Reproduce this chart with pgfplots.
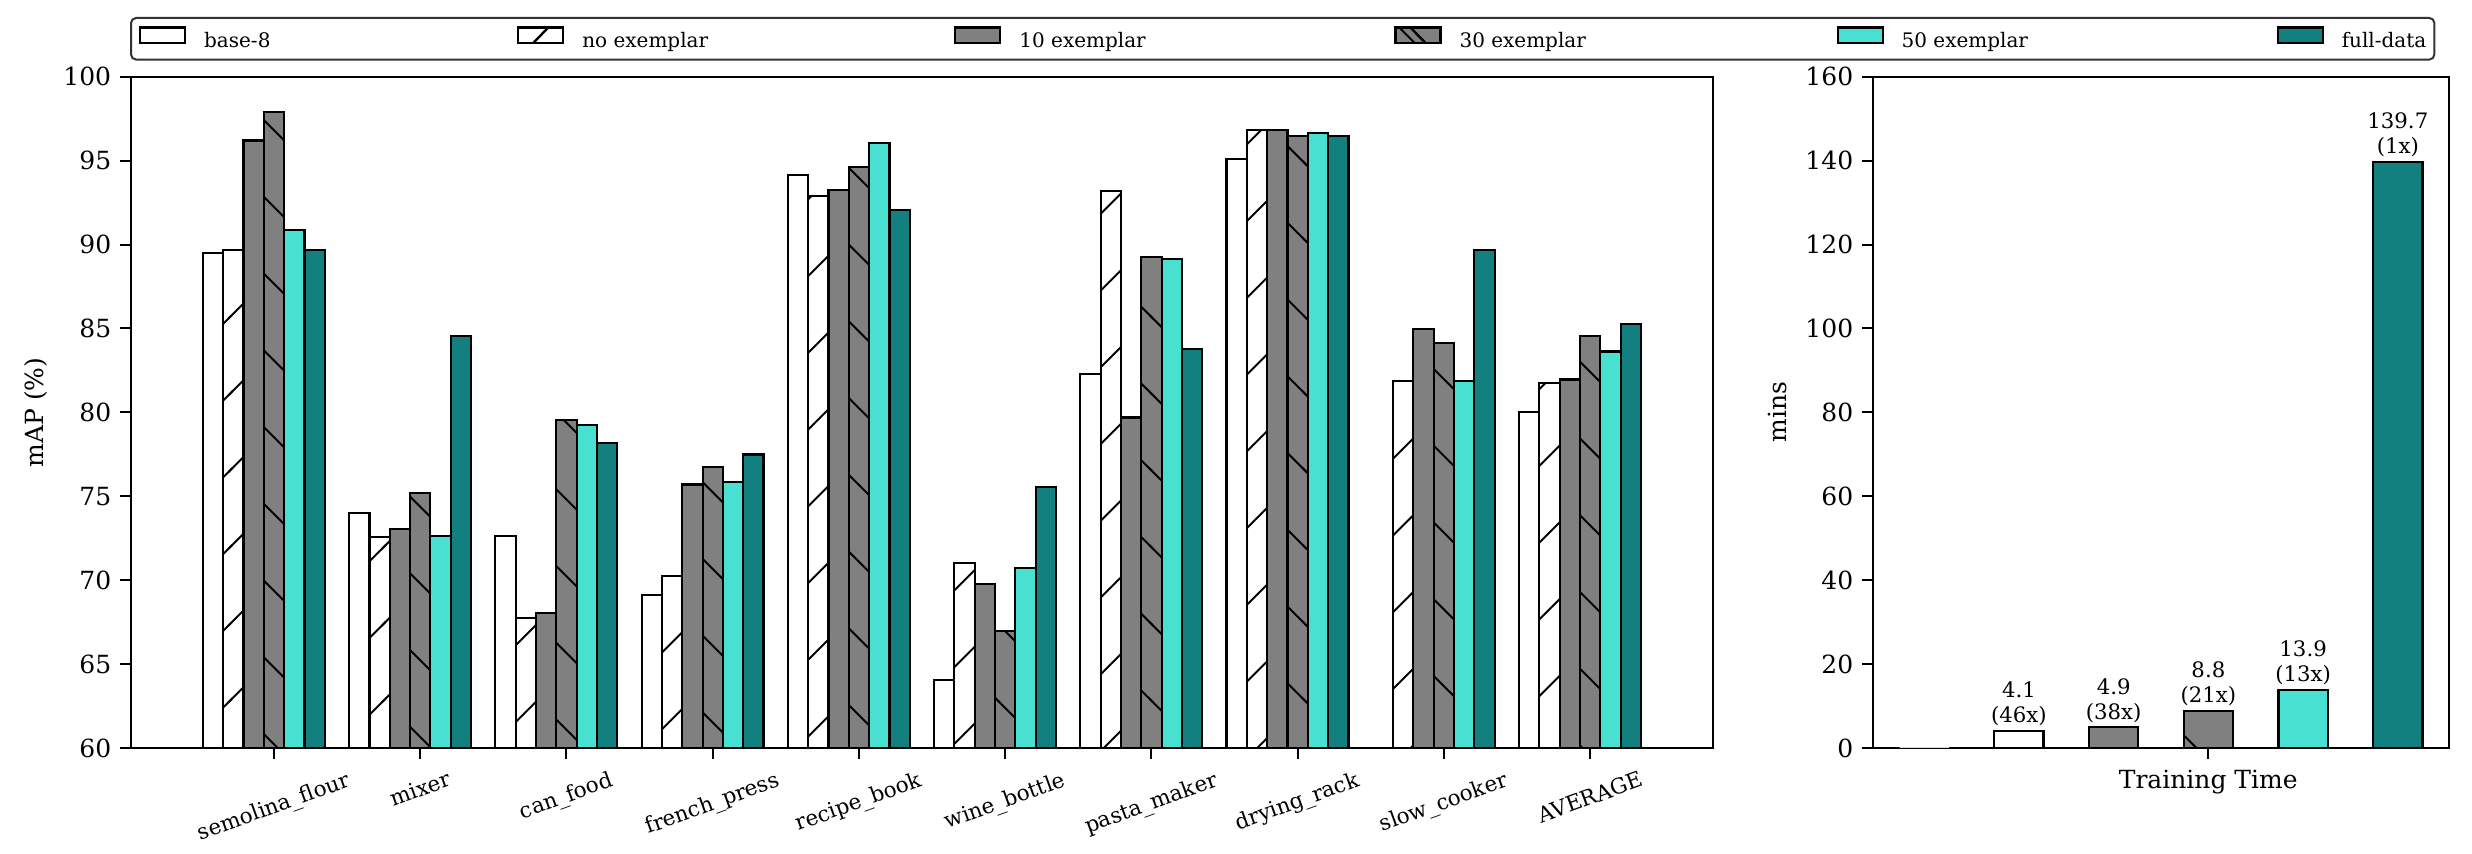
\documentclass[border=0pt]{standalone}
\usepackage{fontspec}
\setmainfont{DejaVu Serif}
\usepackage{graphicx}
\usepackage{pgfplots}
\pgfplotsset{compat=1.18}
\usetikzlibrary{patterns}

\definecolor{grayc}{HTML}{808080}
\definecolor{turq}{HTML}{48E0D0}
\definecolor{tealc}{HTML}{138080}

\pgfdeclarepatternformonly{hne}{\pgfqpoint{-1pt}{-1pt}}{\pgfqpoint{31.7pt}{31.7pt}}{\pgfqpoint{30.7pt}{30.7pt}}{%
  \pgfsetlinewidth{0.8pt}\pgfpathmoveto{\pgfqpoint{-1pt}{-1pt}}\pgfpathlineto{\pgfqpoint{31.7pt}{31.7pt}}\pgfusepath{stroke}}
\pgfdeclarepatternformonly{hnw}{\pgfqpoint{-1pt}{-1pt}}{\pgfqpoint{31.7pt}{31.7pt}}{\pgfqpoint{30.7pt}{30.7pt}}{%
  \pgfsetlinewidth{0.8pt}\pgfpathmoveto{\pgfqpoint{-1pt}{31.7pt}}\pgfpathlineto{\pgfqpoint{31.7pt}{-1pt}}\pgfusepath{stroke}}

\pgfplotsset{
  legimg/.style={legend image code/.code={\draw[##1,sharp corners] (0pt,-0.6pt) rectangle (18pt,5.6pt);}},
  legne/.style={legend image code/.code={\draw[draw=black, fill=#1, line width=0.85pt, sharp corners] (0pt,-0.6pt) rectangle (18pt,5.6pt); \draw[line width=0.85pt, sharp corners] (6pt,-0.6pt) -- (12pt,5.6pt);}},
  legnw/.style={legend image code/.code={\draw[draw=black, fill=#1, line width=0.85pt, sharp corners] (0pt,-0.6pt) rectangle (18pt,5.6pt); \draw[line width=0.85pt, sharp corners] (6pt,5.6pt) -- (12pt,-0.6pt);}},
  sbase/.style={draw=black, fill=white, line width=0.85pt, legimg},
  snoex/.style={draw=black, fill=white, line width=0.85pt, postaction={pattern=hne}, legne=white},
  sten/.style={draw=black, fill=grayc, line width=0.85pt, legimg},
  sthirty/.style={draw=black, fill=grayc, line width=0.85pt, postaction={pattern=hnw}, legnw=grayc},
  sfifty/.style={draw=black, fill=turq, line width=0.85pt, legimg},
  sfull/.style={draw=black, fill=tealc, line width=0.85pt, legimg},
  common/.style={
    scale only axis, anchor=south west, height=268.5pt,
    tick align=outside, xtick pos=bottom, ytick pos=left,
    major tick length=4.4pt,
    axis line style={line width=0.8pt, black},
    tick style={line width=0.8pt, black},
    /pgf/number format/assume math mode=true,
    yticklabel style={font=\fontsize{10}{12}\selectfont},
    label style={font=\fontsize{10}{12}\selectfont},
  },
}

\begin{document}
\begin{tikzpicture}
\path[use as bounding box] (0,0) rectangle (988.8pt,341.6pt);

\begin{axis}[
  common,
  at={(52.4pt,42.4pt)}, width=632.8pt,
  ybar, bar width=0.139,
  xmin=-0.978, xmax=9.84, ymin=60, ymax=100,
  xtick={0,...,9},
  xticklabels={{\rotatebox{20}{semolina\_flour}},{\rotatebox{20}{mixer}},{\rotatebox{20}{can\_food}},{\rotatebox{20}{french\_press}},{\rotatebox{20}{recipe\_book}},{\rotatebox{20}{wine\_bottle}},{\rotatebox{20}{pasta\_maker}},{\rotatebox{20}{drying\_rack}},{\rotatebox{20}{slow\_cooker}},{\rotatebox{20}{AVERAGE}}},
  xticklabel style={font=\fontsize{8.6}{10}\selectfont, anchor=north, inner sep=0pt, yshift=-4.4pt},
  ytick={60,65,...,100},
  ylabel={mAP (\%)},
  ylabel style={at={(axis description cs:-0.060,0.5)}, anchor=center},
  legend columns=6,
  legend style={at={(axis description cs:-0.0006,1.089)}, anchor=north west,
    draw=black!80, line width=0.8pt, rounded corners=2pt,
    inner xsep=3.2pt, inner ysep=3.4pt,
    font=\fontsize{8}{9.6}\selectfont,
    nodes={inner sep=0pt, text height=6pt, text depth=1.6pt},
    /tikz/every odd column/.append style={column sep=7.2pt},
    /tikz/every even column/.append style={column sep=0pt}},
]
\addplot[sbase, bar shift=-0.417] coordinates {(0,89.5) (1,74.0) (2,72.64) (3,69.1) (4,94.15) (5,64.05) (6,82.28) (7,95.08) (9,80.04)};
\addlegendentry{\makebox[125.2pt][l]{base-8}}
\addplot[snoex, bar shift=-0.278] coordinates {(0,89.7) (1,72.56) (2,67.72) (3,70.25) (4,92.87) (5,71.04) (6,93.19) (7,96.81) (8,81.88) (9,81.77)};
\addlegendentry{\makebox[148.8pt][l]{no exemplar}}
\addplot[sten, bar shift=-0.139] coordinates {(0,96.2) (1,73.04) (2,68.04) (3,75.7) (4,93.27) (5,69.79) (6,79.69) (7,96.81) (8,84.99) (9,81.96)};
\addlegendentry{\makebox[150pt][l]{10 exemplar}}
\addplot[sthirty, bar shift=0] coordinates {(0,97.88) (1,75.17) (2,79.56) (3,76.77) (4,94.6) (5,66.97) (6,89.27) (7,96.46) (8,84.11) (9,84.56)};
\addlegendentry{\makebox[150.8pt][l]{30 exemplar}}
\addplot[sfifty, bar shift=0.139] coordinates {(0,90.89) (1,72.64) (2,79.24) (3,75.84) (4,96.06) (5,70.7) (6,89.14) (7,96.67) (8,81.88) (9,83.63)};
\addlegendentry{\makebox[150pt][l]{50 exemplar}}
\addplot[sfull, bar shift=0.278] coordinates {(0,89.7) (1,84.54) (2,78.18) (3,77.49) (4,92.07) (5,75.57) (6,83.77) (7,96.46) (8,89.67) (9,85.28)};
\addlegendentry{full-data}
\end{axis}

\begin{axis}[
  common,
  at={(749.2pt,42.4pt)}, width=230.4pt,
  ybar, bar width=0.52,
  xmin=-0.54, xmax=5.54, ymin=0, ymax=160,
  xtick={3}, xticklabels={{}},
  ytick={0,20,...,160},
  xlabel={Training Time}, ylabel={mins},
  xlabel style={at={(axis description cs:0.582,-0.0507)}, anchor=center},
  ylabel style={at={(axis description cs:-0.165,0.5)}, anchor=center},
  nodes near coords style={font=\fontsize{8.5}{10}\selectfont, align=center, anchor=south, inner sep=1.5pt},
]
\addplot[sbase, draw=black!15, bar shift=0pt] coordinates {(0,0)};
\addplot[sbase, bar shift=0pt, nodes near coords={4.1\\(46x)}] coordinates {(1,4.1)};
\addplot[sten, bar shift=0pt, nodes near coords={4.9\\(38x)}] coordinates {(2,4.9)};
\addplot[sthirty, bar shift=0pt, nodes near coords={8.8\\(21x)}] coordinates {(3,8.8)};
\addplot[sfifty, bar shift=0pt, nodes near coords={13.9\\(13x)}] coordinates {(4,13.9)};
\addplot[sfull, bar shift=0pt, nodes near coords={139.7\\(1x)}] coordinates {(5,139.7)};
\end{axis}
\end{tikzpicture}
\end{document}
